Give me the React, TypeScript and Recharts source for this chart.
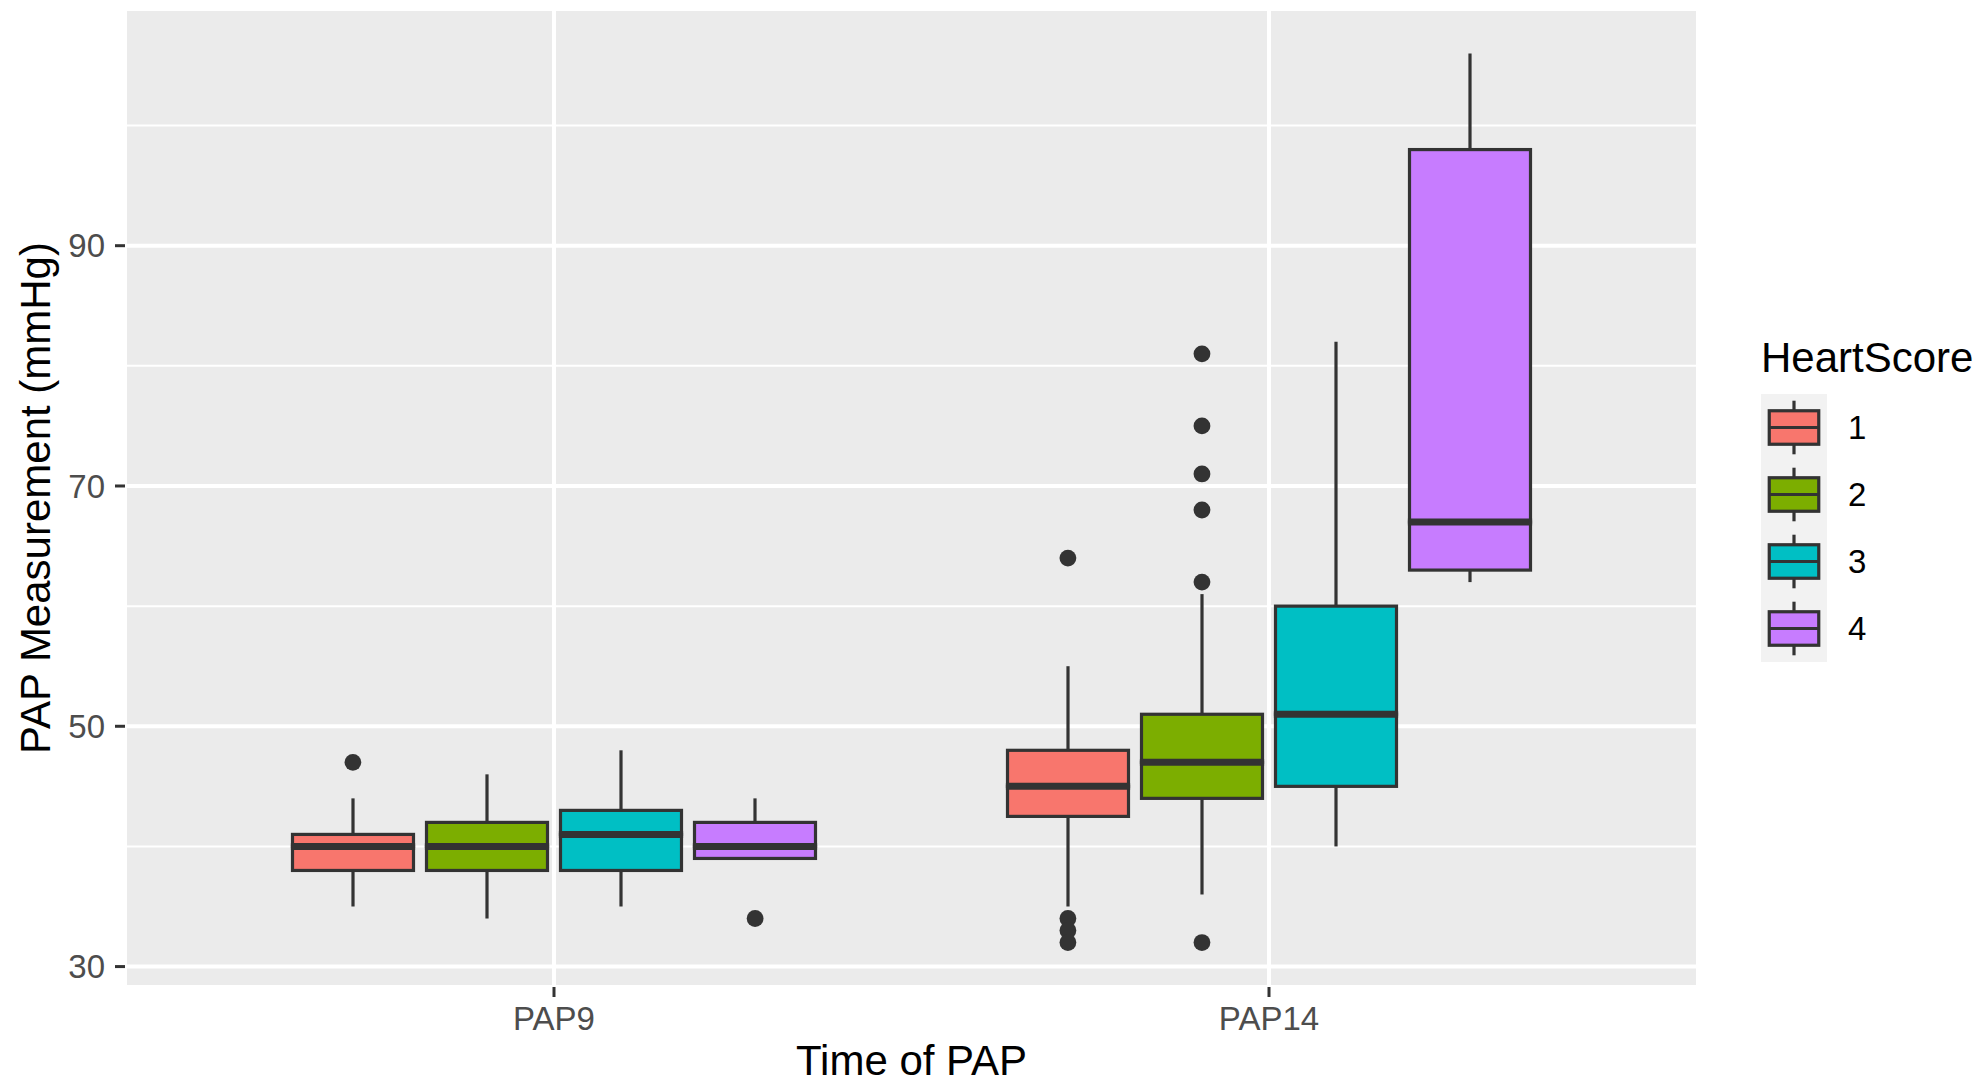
import { Bar, CartesianGrid, ComposedChart, Scatter, XAxis, YAxis } from "recharts";

const times = ["PAP9", "PAP14"];
const scores = ["1", "2", "3", "4"];
const scoreColors = ["#F8766D", "#7CAE00", "#00BFC4", "#C77CFF"];

// one entry per HeartScore, each holding [PAP9, PAP14]
const whiskerLow = [[35, 35], [34, 36], [35, 40], [39, 62]];
const lowerQuartile = [[38, 42.5], [38, 44], [38, 45], [39, 63]];
const medians = [[40, 45], [40, 47], [41, 51], [40, 67]];
const upperQuartile = [[41, 48], [42, 51], [43, 60], [42, 98]];
const whiskerHigh = [[44, 55], [46, 61], [48, 82], [44, 106]];
const outliers = [
  [[47], [64, 34, 33, 32]],
  [[], [81, 75, 71, 68, 62, 32]],
  [[], []],
  [[34], []],
];

const yTicks = [30, 50, 70, 90];
const yMinorTicks = [40, 60, 80, 100];
const yDomain = [28.3, 109.7];
const xDomain = [0.4, 2.6];
const xPositions = [1, 2];
const dodgeStep = 0.1875;

const INK = "#333333";
const LW = 3.2;
const FONT = "'Liberation Sans', Arial, Helvetica, sans-serif";

const boxRows = times.map((time, t) => {
  const row: Record<string, string | number> = { time };
  scores.forEach((_, s) => {
    row[`base${s}`] = whiskerLow[s][t];
    row[`lw${s}`] = lowerQuartile[s][t] - whiskerLow[s][t];
    row[`lb${s}`] = medians[s][t] - lowerQuartile[s][t];
    row[`ub${s}`] = upperQuartile[s][t] - medians[s][t];
    row[`uw${s}`] = whiskerHigh[s][t] - upperQuartile[s][t];
  });
  return row;
});

const outlierPoints = scores.map((_, s) =>
  times.flatMap((_, t) =>
    outliers[s][t].map((value) => ({ pos: xPositions[t] + (s - 1.5) * dodgeStep, value }))
  )
);

const Empty = () => <g />;

const Whisker = (props: any) => {
  const { x, y, width, height } = props;
  if (!height || height <= 0) return <g />;
  const cx = x + width / 2;
  return <line x1={cx} x2={cx} y1={y} y2={y + height} stroke={INK} strokeWidth={LW} />;
};

const makeBox = (color: string, withMedian: boolean) => (props: any) => {
  const { x, y, width, height } = props;
  return (
    <g>
      <rect x={x} y={y} width={width} height={Math.max(height, 0)} fill={color} stroke={INK} strokeWidth={LW} />
      {withMedian && (
        <line
          x1={x - LW / 2}
          x2={x + width + LW / 2}
          y1={y + height}
          y2={y + height}
          stroke={INK}
          strokeWidth={7}
        />
      )}
    </g>
  );
};

const Dot = (props: any) => <circle cx={props.cx} cy={props.cy} r={8.4} fill={INK} />;

const XTitle = (props: any) => {
  const vb = props.viewBox;
  return (
    <text x={vb.x + vb.width / 2} y={1075} textAnchor="middle" fontSize={42} fill="#000000">
      Time of PAP
    </text>
  );
};

const YTitle = (props: any) => {
  const vb = props.viewBox;
  const cy = vb.y + vb.height / 2;
  return (
    <text x={50} y={cy} transform={`rotate(-90, 50, ${cy})`} textAnchor="middle" fontSize={42} fill="#000000">
      PAP Measurement (mmHg)
    </text>
  );
};

function HeartLegend() {
  const left = 1761;
  const top = 394;
  const kw = 66;
  const kh = 67;
  return (
    <svg
      width={1982}
      height={1087}
      style={{ position: "absolute", left: 0, top: 0, pointerEvents: "none", fontFamily: FONT }}
    >
      <text x={left} y={372} fontSize={42} fill="#000000">
        HeartScore
      </text>
      <rect x={left} y={top} width={kw} height={kh * scores.length} fill="#F2F2F2" />
      {scores.map((label, i) => {
        const y0 = top + i * kh;
        const cx = left + kw / 2;
        return (
          <g key={label}>
            <line x1={cx} x2={cx} y1={y0 + kh * 0.1} y2={y0 + kh * 0.9} stroke={INK} strokeWidth={LW} />
            <rect
              x={left + kw * 0.125}
              y={y0 + kh * 0.25}
              width={kw * 0.75}
              height={kh * 0.5}
              fill={scoreColors[i]}
              stroke={INK}
              strokeWidth={LW}
            />
            <line
              x1={left + kw * 0.125}
              x2={left + kw * 0.875}
              y1={y0 + kh / 2}
              y2={y0 + kh / 2}
              stroke={INK}
              strokeWidth={LW}
            />
            <text x={1848} y={y0 + kh / 2} dominantBaseline="central" fontSize={33} fill="#000000">
              {label}
            </text>
          </g>
        );
      })}
    </svg>
  );
}

export default function App() {
  return (
    <div
      style={{
        position: "absolute",
        left: 0,
        top: 0,
        width: 1982,
        height: 1087,
        background: "#ffffff",
        fontFamily: FONT,
      }}
    >
      <ComposedChart
        width={1982}
        height={1087}
        data={boxRows}
        margin={{ top: 9, right: 284, bottom: 0, left: 0 }}
        barGap={13}
        barCategoryGap={96}
      >
        <XAxis
          xAxisId="cat"
          dataKey="time"
          type="category"
          height={100}
          padding={{ left: 71.5, right: 71.5 }}
          axisLine={false}
          tickSize={10}
          tickMargin={10}
          tickLine={{ stroke: INK, strokeWidth: 3 }}
          tick={{ fill: "#4D4D4D", fontSize: 33 }}
          label={<XTitle />}
        />
        <XAxis xAxisId="num" dataKey="pos" type="number" domain={xDomain} ticks={xPositions} allowDataOverflow hide />
        <YAxis
          yAxisId="main"
          type="number"
          domain={yDomain}
          ticks={yTicks}
          allowDataOverflow
          width={125}
          axisLine={false}
          tickSize={10}
          tickMargin={10}
          tickLine={{ stroke: INK, strokeWidth: 3 }}
          tick={{ fill: "#4D4D4D", fontSize: 33 }}
          label={<YTitle />}
        />
        <YAxis yAxisId="minor" type="number" domain={yDomain} ticks={yMinorTicks} allowDataOverflow hide />
        <CartesianGrid
          xAxisId="num"
          yAxisId="minor"
          vertical={false}
          stroke="#ffffff"
          strokeWidth={2}
          fill="#EBEBEB"
        />
        <CartesianGrid xAxisId="num" yAxisId="main" stroke="#ffffff" strokeWidth={4} />
        {scores.flatMap((score, s) => [
          <Bar key={`base${s}`} xAxisId="cat" yAxisId="main" dataKey={`base${s}`} stackId={`hs${s}`} shape={Empty} isAnimationActive={false} />,
          <Bar key={`lw${s}`} xAxisId="cat" yAxisId="main" dataKey={`lw${s}`} stackId={`hs${s}`} shape={Whisker} isAnimationActive={false} />,
          <Bar key={`lb${s}`} xAxisId="cat" yAxisId="main" dataKey={`lb${s}`} stackId={`hs${s}`} shape={makeBox(scoreColors[s], false)} isAnimationActive={false} />,
          <Bar key={`ub${s}`} xAxisId="cat" yAxisId="main" dataKey={`ub${s}`} stackId={`hs${s}`} shape={makeBox(scoreColors[s], true)} isAnimationActive={false} />,
          <Bar key={`uw${s}`} xAxisId="cat" yAxisId="main" dataKey={`uw${s}`} stackId={`hs${s}`} shape={Whisker} isAnimationActive={false} name={`HeartScore ${score}`} />,
        ])}
        {scores.map((score, s) => (
          <Scatter
            key={`out${s}`}
            xAxisId="num"
            yAxisId="main"
            data={outlierPoints[s]}
            dataKey="value"
            shape={Dot}
            isAnimationActive={false}
            name={`Outliers ${score}`}
          />
        ))}
      </ComposedChart>
      <HeartLegend />
    </div>
  );
}
